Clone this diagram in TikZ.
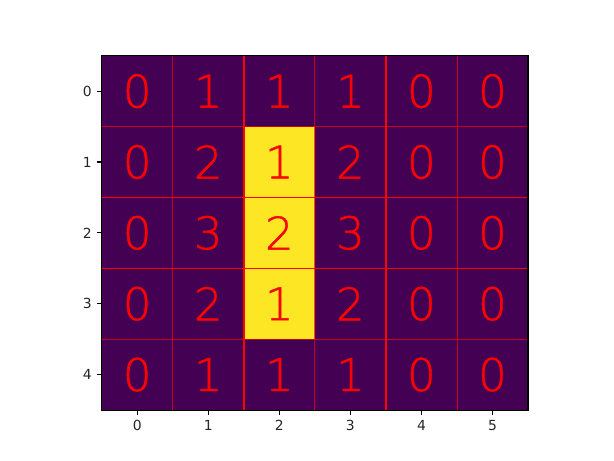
\documentclass[tikz,border=0pt]{standalone}
\usepackage{fontspec}
\setmainfont{DejaVu Sans}
\IfFontExistsTF{DejaVu Sans ExtraLight}
  {\newfontfamily\digitfont{DejaVu Sans ExtraLight}[FakeBold=1]}
  {\newfontfamily\digitfont{DejaVu Sans}}
\definecolor{vlow}{HTML}{440154}
\definecolor{vhigh}{HTML}{FDE725}
\begin{document}
\begin{tikzpicture}[x=1pt,y=-1pt,
  cell/.style={minimum width=71.05pt,minimum height=70.87pt,inner sep=0pt,outer sep=0pt,
    font=\digitfont\fontsize{45}{50}\selectfont,text=red},
  lowcell/.style={cell,fill=vlow},
  highcell/.style={cell,fill=vhigh},
  dimline/.style={red,line width=0.8pt,opacity=0.7},
  brightline/.style={red,line width=1.5pt},
  tick/.style={black,line width=1.1pt},
  ticklabel/.style={font=\fontsize{13.9}{16}\selectfont,text=black!85,inner sep=0pt}]
\useasboundingbox (0,0) rectangle (614,461);
\def\xo{101.7}\def\yo{55.7}\def\cw{71.05}\def\ch{70.87}
% cells
\foreach \r/\row in {0/{0,1,1,1,0,0},1/{0,2,1,2,0,0},2/{0,3,2,3,0,0},3/{0,2,1,2,0,0},4/{0,1,1,1,0,0}}{
  \foreach \v [count=\c from 0] in \row {
    \pgfmathsetmacro{\isHigh}{(\c==2 && \r>=1 && \r<=3) ? 1 : 0}
    \ifnum\isHigh=1
      \node[highcell] (c-\r-\c) at ({\xo+\cw*(\c+0.5)},{\yo+\ch*(\r+0.5)}) {\v};
    \else
      \node[lowcell] (c-\r-\c) at ({\xo+\cw*(\c+0.5)},{\yo+\ch*(\r+0.5)}) {\v};
    \fi
  }
}
% grid lines
\foreach \c in {1,3,5}{
  \draw[dimline] (c-0-\c.north west) -- (c-4-\c.south west);
}
\foreach \c in {2,4}{
  \draw[brightline] (c-0-\c.north west) -- (c-4-\c.south west);
}
\foreach \r in {1,4}{
  \draw[dimline] (c-\r-0.north west) -- (c-\r-5.north east);
}
\foreach \r in {2,3}{
  \draw[brightline] (c-\r-0.north west) -- (c-\r-5.north east);
}
% axes frame
\draw[black,line width=1.1pt] (c-0-0.north west) rectangle (c-4-5.south east);
% ticks
\foreach \r in {0,...,4}{
  \coordinate (yt-\r) at ([xshift=-4.9pt]c-\r-0.west);
  \draw[tick] (c-\r-0.west) -- (yt-\r);
  \node[ticklabel,anchor=east] (yl-\r) at ([xshift=-4.9pt]yt-\r) {\r};
}
\foreach \c in {0,...,5}{
  \coordinate (xt-\c) at ([yshift=-4.9pt]c-4-\c.south);
  \draw[tick] (c-4-\c.south) -- (xt-\c);
  \node[ticklabel,anchor=north] (xl-\c) at ([yshift=-4.9pt]xt-\c) {\c};
}
\end{tikzpicture}
\end{document}
